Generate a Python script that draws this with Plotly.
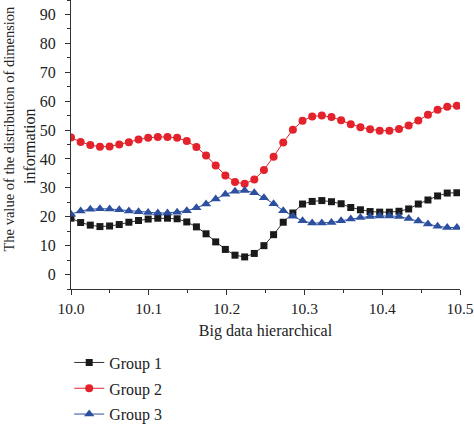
import plotly.graph_objects as go

x_values = [10.0, 10.0124, 10.0248, 10.0372, 10.0496, 10.062, 10.0744, 10.0868, 10.0992, 10.1116,
            10.124, 10.1364, 10.1488, 10.1612, 10.1736, 10.186, 10.1984, 10.2108, 10.2232, 10.2356,
            10.248, 10.2604, 10.2728, 10.2852, 10.2976, 10.31, 10.3224, 10.3348, 10.3472, 10.3596,
            10.372, 10.3844, 10.3968, 10.4092, 10.4216, 10.434, 10.4464, 10.4588, 10.4712, 10.4836,
            10.496]

group1 = [19.5, 18.0, 17.1, 16.6, 16.8, 17.3, 18.1, 18.7, 19.2, 19.5,
          19.5, 19.3, 18.2, 16.5, 14.1, 11.3, 8.7, 6.7, 6.1, 7.3,
          10.0, 13.8, 18.1, 21.3, 24.4, 25.3, 25.6, 25.2, 24.5, 23.2,
          22.4, 21.8, 21.6, 21.6, 21.9, 22.7, 24.4, 25.8, 27.2, 28.2,
          28.3]

group2 = [47.4, 45.9, 44.8, 44.2, 44.3, 45.0, 45.8, 46.7, 47.3, 47.6,
          47.6, 47.3, 46.2, 44.1, 41.2, 37.7, 34.3, 32.0, 31.4, 32.9,
          36.2, 40.8, 45.7, 50.1, 53.2, 54.7, 55.0, 54.5, 53.4, 52.0,
          51.0, 50.3, 49.8, 49.8, 50.4, 51.6, 53.3, 55.3, 57.0, 58.1,
          58.4]

group3 = [20.9, 22.0, 22.6, 22.8, 22.7, 22.4, 22.0, 21.7, 21.5, 21.3,
          21.3, 21.6, 22.1, 23.1, 24.4, 26.1, 27.8, 28.8, 29.1, 28.3,
          26.6, 24.5, 22.1, 20.2, 18.6, 17.8, 17.8, 18.0, 18.6, 19.2,
          19.7, 20.1, 20.3, 20.3, 20.1, 19.4, 18.5, 17.5, 16.7, 16.3,
          16.3]

series_names = ["Group 1", "Group 2", "Group 3"]
x_tick_vals = [10.0, 10.1, 10.2, 10.3, 10.4, 10.5]
x_tick_text = ["10.0", "10.1", "10.2", "10.3", "10.4", "10.5"]
y_tick_vals = [0, 10, 20, 30, 40, 50, 60, 70, 80, 90]

FONT = "Liberation Serif, Times New Roman, serif"
TXT = "#222222"

fig = go.Figure()
styles = [
    (group1, "#1a1a1a", "#333333", "square", 7),
    (group2, "#e3222b", "#e3222b", "circle", 8),
    (group3, "#2c4fa0", "#2c4fa0", "triangle-up", 9),
]
for name, (vals, mcol, lcol, sym, size) in zip(series_names, styles):
    fig.add_trace(go.Scatter(
        x=x_values, y=vals, name=name, mode="lines+markers",
        line=dict(color=lcol, width=1),
        marker=dict(symbol=sym, size=size, color=mcol, line=dict(width=0)),
        legendgroup=name,
    ))

fig.update_layout(
    width=474, height=424,
    margin=dict(l=71, r=14, t=0, b=135, autoexpand=False),
    paper_bgcolor="white", plot_bgcolor="white",
    font=dict(family=FONT, size=15, color=TXT),
    showlegend=True,
    legend=dict(
        xref="container", yref="container",
        x=0.146, xanchor="left", y=0.185, yanchor="top",
        font=dict(family=FONT, size=16, color=TXT),
        tracegroupgap=2, itemwidth=30, bgcolor="rgba(0,0,0,0)",
    ),
    xaxis=dict(
        range=[10.0, 10.5], tickvals=x_tick_vals, ticktext=x_tick_text,
        showgrid=False, zeroline=False, showline=True, linecolor="#333333", linewidth=1,
        ticks="outside", ticklen=5, tickcolor="#333333",
        minor=dict(dtick=0.05, ticks="outside", ticklen=3, tickcolor="#333333", showgrid=False),
        tickfont=dict(family=FONT, size=15.5, color=TXT),
        title=dict(text="Big data hierarchical", font=dict(family=FONT, size=16, color=TXT), standoff=9),
    ),
    yaxis=dict(
        range=[-5, 95], tickvals=y_tick_vals,
        showgrid=False, zeroline=False, showline=True, linecolor="#333333", linewidth=1,
        ticks="outside", ticklen=5, tickcolor="#333333", ticklabelstandoff=6,
        minor=dict(dtick=5, ticks="outside", ticklen=3, tickcolor="#333333", showgrid=False),
        tickfont=dict(family=FONT, size=16, color=TXT),
    ),
)

fig.add_annotation(
    text="The value of the distribution of dimension", textangle=-90,
    xref="paper", yref="paper", x=-0.1594, y=0.5554, xanchor="center", yanchor="middle",
    showarrow=False, font=dict(family=FONT, size=14.5, color=TXT),
)
fig.add_annotation(
    text="information", textangle=-90,
    xref="paper", yref="paper", x=-0.108, y=0.4948, xanchor="center", yanchor="middle",
    showarrow=False, font=dict(family=FONT, size=16, color=TXT),
)

fig.write_html(
    "out.html",
    config={"displayModeBar": False},
    post_script="document.body.style.margin='0px';document.body.style.overflow='hidden';",
)
